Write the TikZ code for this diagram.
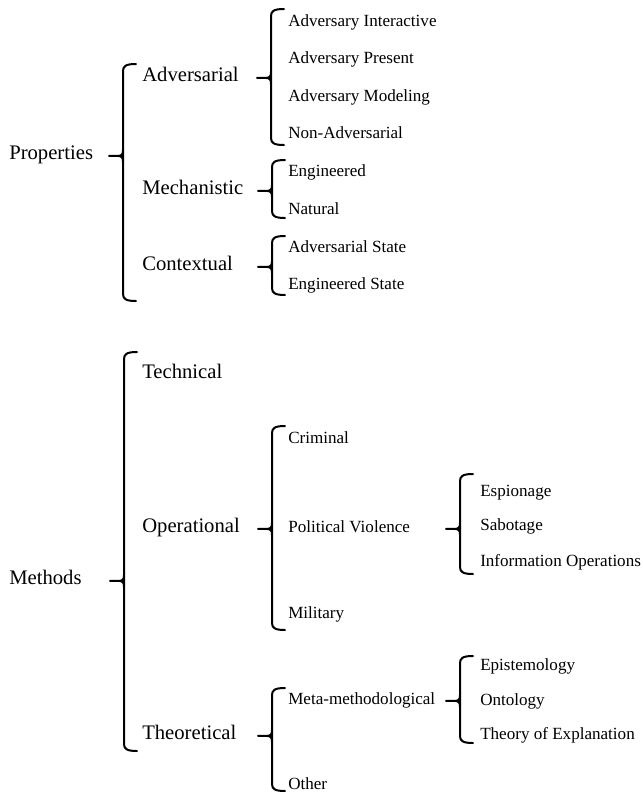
\documentclass[tikz,border=0pt]{standalone}
\usepackage{fontspec}
\setmainfont{Liberation Serif}
\usepackage{tikz}

% curly bracket: stem x, top y, bottom y, node it points to
\newcommand{\curly}[4]{%
  \draw[bracket] ({#1+13},#2) .. controls ({#1+3},#2) and (#1,{#2+2}) .. (#1,{#2+7})
    -- (#1,{#3-7}) .. controls (#1,{#3-2}) and ({#1+3},#3) .. ({#1+13},#3);
  \begin{scope}[shift={(#1,0 |- #4)}]
    \draw[bracket] (0,-6) .. controls (0,-2) and (-1,0) .. (-5,0) -- (-14,0);
    \draw[bracket] (0,6) .. controls (0,2) and (-1,0) .. (-5,0);
  \end{scope}}

\begin{document}
\begin{tikzpicture}[x=0.75pt,y=-0.75pt,
    bracket/.style={line width=1.5pt,line join=round,line cap=round},
    txt/.style={anchor=west,inner sep=0pt,text height=0.7em,text depth=0.22em,yshift=-2.2pt},
    big/.style={txt,font=\fontsize{15.5}{18}\selectfont},
    small/.style={txt,font=\fontsize{12.8}{15}\selectfont}]
        \useasboundingbox (0,0) rectangle (643,794);

        % top level
        \node[big] (props) at (9,153) {Properties};
        \node[big] (meth) at (9,578) {Methods};

        % second level
        \node[big] (adv) at (142,75) {Adversarial};
        \node[big] (mech) at (142,188) {Mechanistic};
        \node[big] (ctx) at (142,264) {Contextual};
        \node[big] (tech) at (142,372) {Technical};
        \node[big] (oper) at (142,526) {Operational};
        \node[big] (theo) at (142,733) {Theoretical};

        % third level
        \node[small] (advint) at (288,20) {Adversary Interactive};
        \node[small] (advpres) at (288,57) {Adversary Present};
        \node[small] (advmod) at (288,95) {Adversary Modeling};
        \node[small] (nonadv) at (288,132) {Non-Adversarial};
        \node[small] (eng) at (288,170) {Engineered};
        \node[small] (nat) at (288,208) {Natural};
        \node[small] (advstate) at (288,246) {Adversarial State};
        \node[small] (engstate) at (288,283) {Engineered State};
        \node[small] (crim) at (288,437) {Criminal};
        \node[small] (polviol) at (288,526) {Political Violence};
        \node[small] (mil) at (288,612) {Military};
        \node[small] (meta) at (288,698) {Meta-methodological};
        \node[small] (other) at (288,783) {Other};

        % fourth level
        \node[small] (esp) at (480,490) {Espionage};
        \node[small] (sab) at (480,524) {Sabotage};
        \node[small] (infoop) at (480,560) {Information Operations};
        \node[small] (epist) at (480,664) {Epistemology};
        \node[small] (onto) at (480,699) {Ontology};
        \node[small] (theoexp) at (480,733) {Theory of Explanation};

        \curly{123}{64}{301}{props}
        \curly{124}{352}{751}{meth}
        \curly{271}{9}{145}{adv}
        \curly{272}{160}{218}{mech}
        \curly{272}{236}{295}{ctx}
        \curly{272}{426}{630}{oper}
        \curly{272}{688}{791}{theo}
        \curly{460}{474}{574}{polviol}
        \curly{460}{656}{743}{meta}
    \end{tikzpicture}
\end{document}
